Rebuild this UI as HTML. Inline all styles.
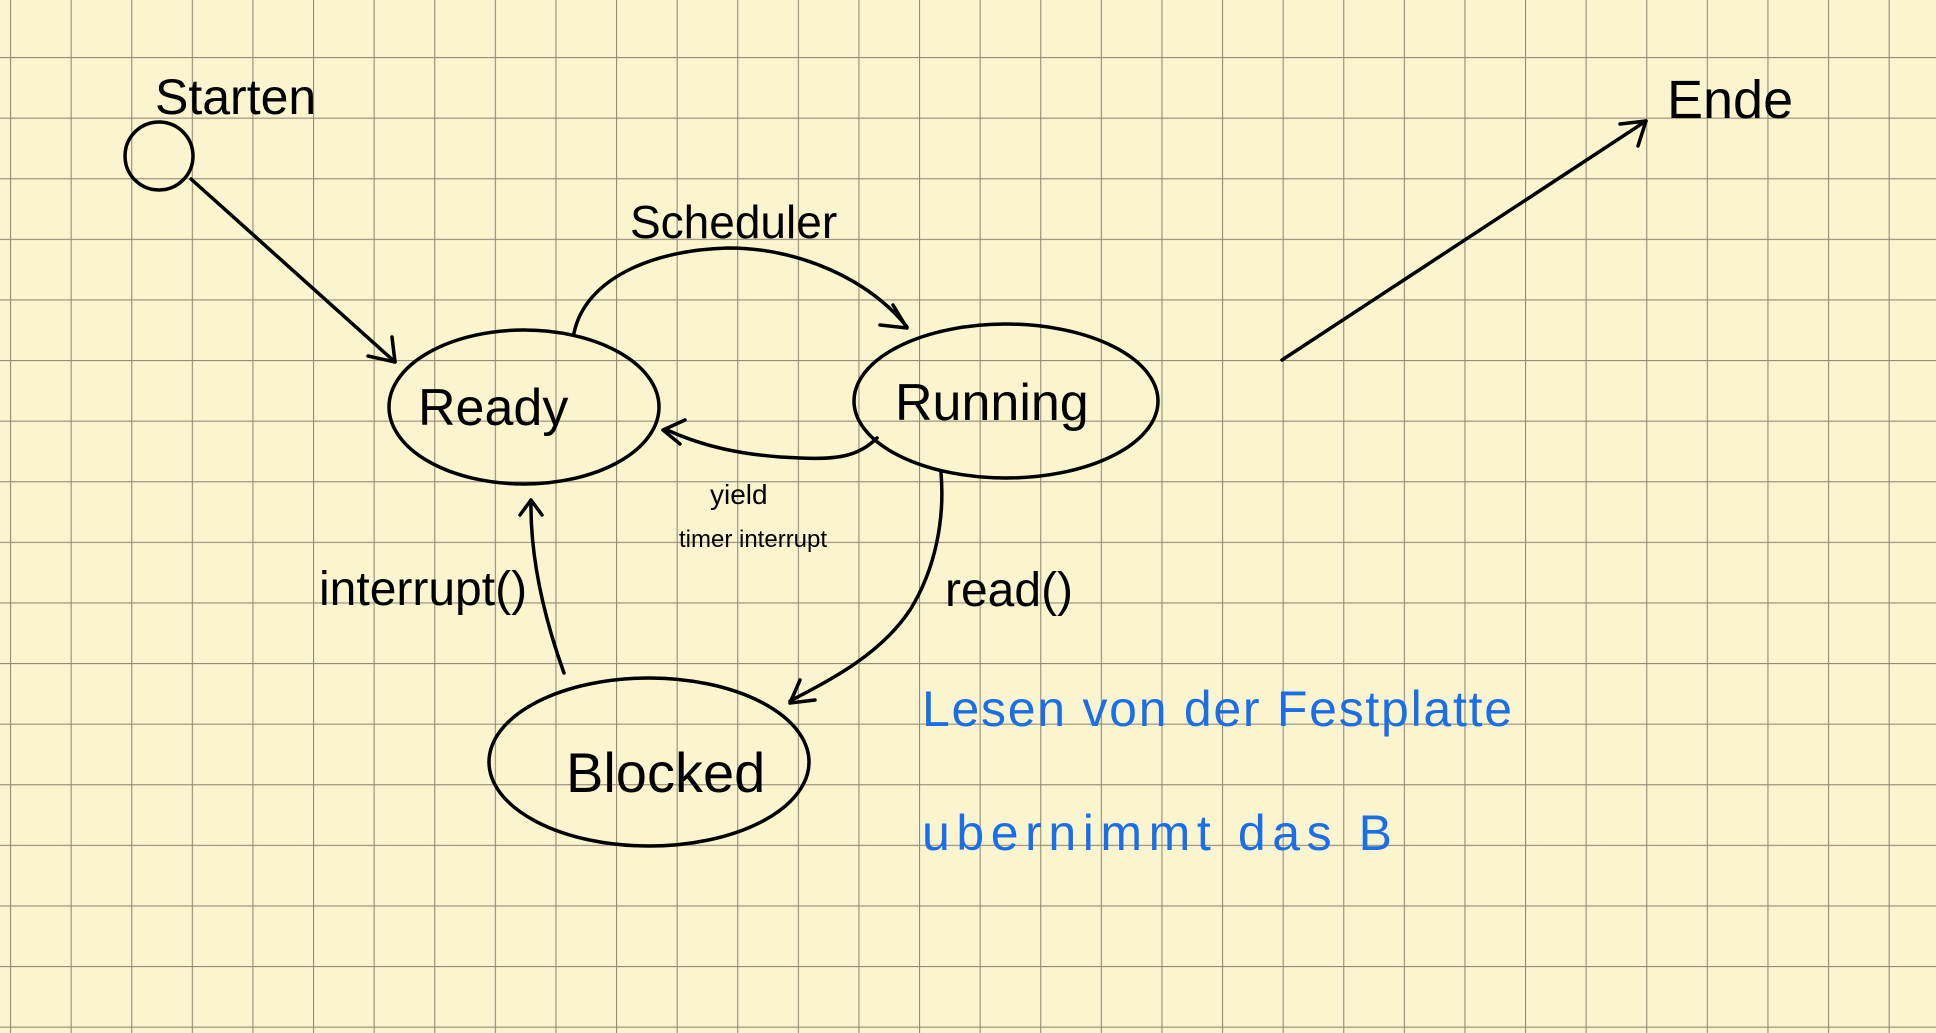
<!DOCTYPE html>
<html><head><meta charset="utf-8"><style>
html,body{margin:0;padding:0;width:1936px;height:1033px;overflow:hidden;background:#fbf5cf;}
svg{display:block}
text{font-family:"Liberation Sans",sans-serif;}
</style></head><body>
<svg width="1936" height="1033" viewBox="0 0 1936 1033" xmlns="http://www.w3.org/2000/svg">
<defs>
<pattern id="g" x="10" y="-3.6" width="60.6" height="60.6" patternUnits="userSpaceOnUse">
<path d="M0 0V60.6M0 0H60.6" stroke="#948a78" stroke-width="2.2" fill="none"/>
</pattern>
</defs>
<rect width="1936" height="1033" fill="#fbf5cf"/>
<rect width="1936" height="1033" fill="url(#g)"/>
<g fill="none" stroke="#000" stroke-width="3.5" stroke-linecap="round" stroke-linejoin="round">
<circle cx="159" cy="156" r="34"/>
<path d="M191 179 L395 362"/><path d="M368 356 L395 362 L392 337"/>
<ellipse cx="524" cy="407" rx="135" ry="77"/>
<ellipse cx="1006" cy="401" rx="152" ry="77"/>
<ellipse cx="649" cy="762" rx="160" ry="84"/>
<path d="M574 333 C585 280 650 250 728 248 C800 248 870 280 907 327"/><path d="M880 325 L907 328 L893 305"/>
<path d="M1282 360 L1646 121"/><path d="M1620 124 L1646 121 L1638 146"/>
<path d="M877 438 C860 455 840 460 800 458 C740 456 700 445 667 430"/><path d="M680 444 L663 430 L685 420"/>
<path d="M941 473 C945 520 935 570 910 610 C880 655 830 680 790 701"/><path d="M815 700 L790 703 L800 680"/>
<path d="M564 673 C545 620 530 560 531 500"/><path d="M520 515 L531 500 L542 515"/>
</g>
<g fill="#000" font-size="50">
<text x="155" y="114">Starten</text>
<text x="630" y="238" font-size="46">Scheduler</text>
<text x="1667" y="118" font-size="54">Ende</text>
<text x="418" y="425" font-size="52">Ready</text>
<text x="895" y="420" font-size="52">Running</text>
<text x="566" y="792" font-size="56">Blocked</text>
<text x="710" y="504" font-size="28">yield</text>
<text x="679" y="547" font-size="24">timer interrupt</text>
<text x="945" y="606" font-size="48">read()</text>
<text x="319" y="605" font-size="48">interrupt()</text>
</g>
<g fill="#1a6fe8" font-size="50">
<text x="922" y="726" textLength="590" lengthAdjust="spacing">Lesen  von  der  Festplatte</text>
<text x="922" y="850" textLength="470" lengthAdjust="spacing">ubernimmt  das  B</text>
</g>
</svg>
</body></html>
